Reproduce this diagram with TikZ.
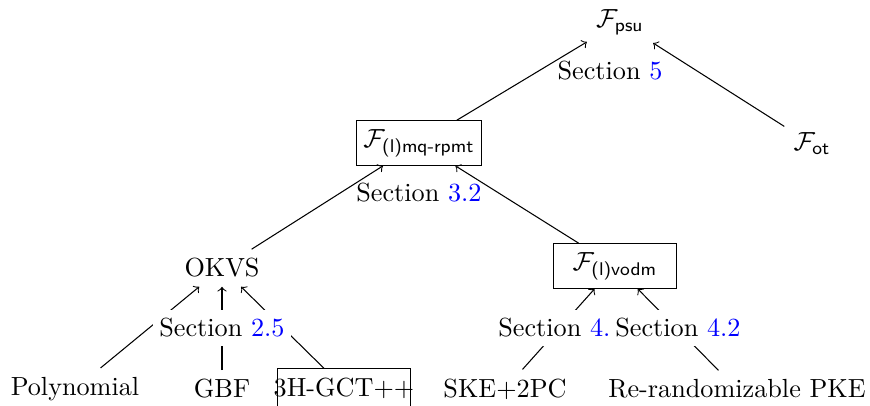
\documentclass[tikz,border=0pt]{standalone}
\usepackage{amsmath}
\begin{document}
\begin{tikzpicture}[x=0.3817pt,y=-0.3817pt,
  fbox/.style={draw,inner xsep=2.6pt,minimum width=47pt},
  lbl/.style={fill=white,inner xsep=2.5pt},
  arr/.style={->}]
\useasboundingbox (0,0) rectangle (870,406);
% nodes
\node (psu) at (620,22) {$\mathcal{F}_{\mathsf{psu}}$};
\node[fbox] (mq) at (419,143) {$\mathcal{F}_{\textsf{(l)mq-rpmt}}$};
\node (ot) at (812,144) {$\mathcal{F}_{\mathsf{ot}}$};
\node (okvs) at (222,268) {OKVS};
\node[fbox] (vodm) at (615,266) {$\mathcal{F}_{\textsf{(l)vodm}}$};
\node (poly) at (75,389) {Polynomial};
\node (gbf) at (222,389) {GBF};
\node[draw,inner xsep=-1.6pt,minimum height=14pt] (gct) at (344,388) {3H-GCT++};
\node (ske) at (505,389) {SKE+2PC};
\node (pke) at (737,389) {Re-randomizable PKE};
% edges
\draw[arr] (mq) -- (psu);
\draw[arr] (ot) -- (psu);
\draw[arr] (okvs) -- (mq);
\draw[arr] (vodm) -- (mq);
\draw[arr] (poly) -- (okvs);
\draw[arr] (gbf) -- (okvs);
\draw[arr] (gct) -- (okvs);
\draw[arr] (ske) -- (vodm);
\draw[arr] (pke) -- (vodm);
% labels
\node (s5) at (610,71) {Section \textcolor{blue}{5}};
\node (s32) at (419,193) {Section \textcolor{blue}{3.2}};
\node[lbl] (s25) at (222,328) {Section \textcolor{blue}{2.5}};
\node[lbl] (s41) at (561,328) {Section \textcolor{blue}{4.1}};
\node[lbl] (s42) at (678,328) {Section \textcolor{blue}{4.2}};
\end{tikzpicture}
\end{document}
